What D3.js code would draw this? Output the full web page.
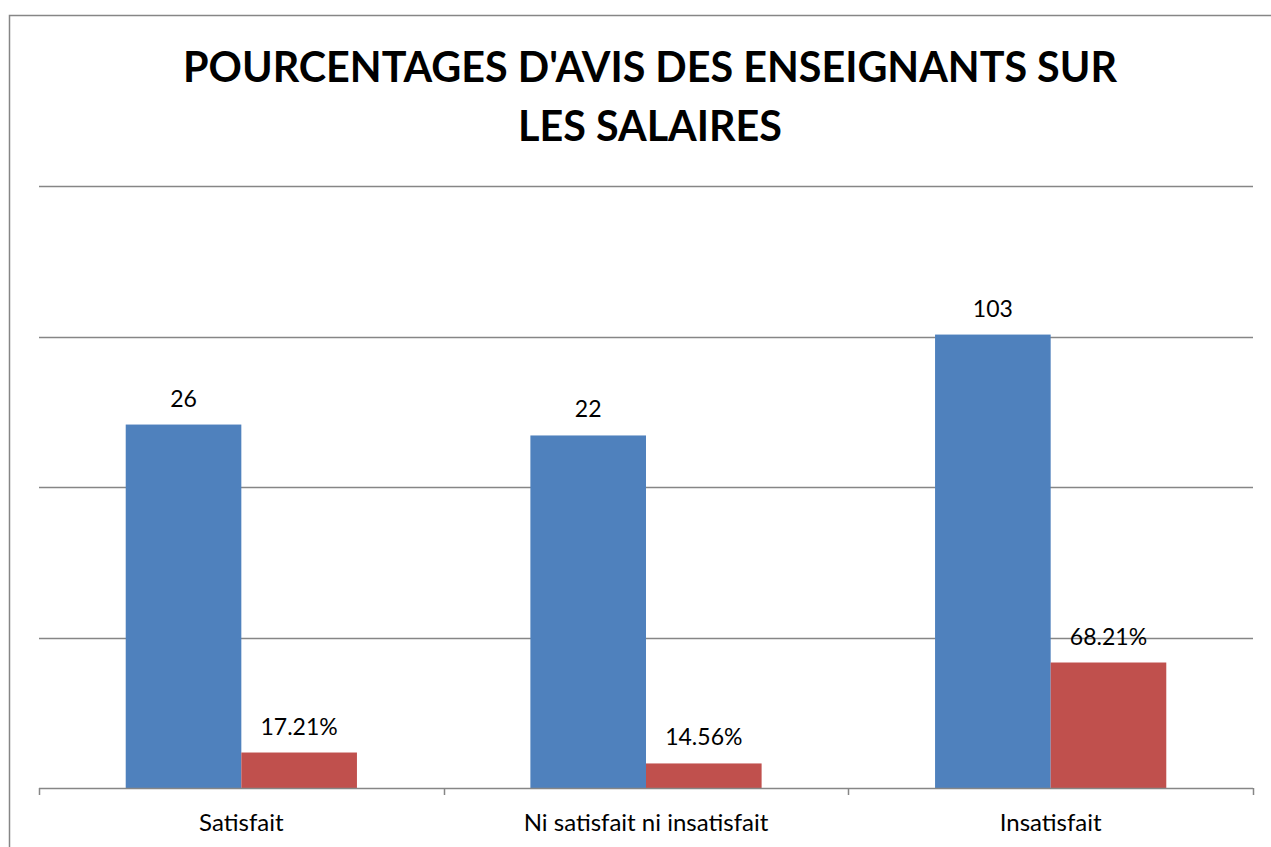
<!DOCTYPE html>
<html>
<head>
<meta charset="utf-8">
<script src="https://cdn.jsdelivr.net/npm/d3@7"></script>
<style>
  html, body { margin: 0; padding: 0; background: #fff; }
  svg { display: block; font-family: Lato, "Open Sans", sans-serif; }
</style>
</head>
<body>
<svg id="chart" width="1271" height="847"></svg>
<script>
// data
var categories = ["Satisfait", "Ni satisfait ni insatisfait", "Insatisfait"];
var effectifs = [26, 22, 103];
var pourcentages = [0.1721, 0.1456, 0.6821];
var pourcentageLabels = ["17.21%", "14.56%", "68.21%"];
var titleLines = ["POURCENTAGES D'AVIS DES ENSEIGNANTS SUR", "LES SALAIRES"];
var gridTicks = [0.1, 1, 10, 100, 1000];

var svg = d3.select("svg#chart");
var margin = {top: 186, right: 18, bottom: 59, left: 39};
var width = +svg.attr("width") - margin.left - margin.right;
var height = +svg.attr("height") - margin.top - margin.bottom;

// outer chart frame (only left/top visible)
svg.append("rect")
    .attr("x", 9.5).attr("y", 15.5)
    .attr("width", 1300).attr("height", 900)
    .attr("fill", "none")
    .attr("stroke", "#868686")
    .attr("stroke-width", 1.5);

svg.selectAll(".title")
    .data(titleLines)
    .enter().append("text")
    .attr("class", "title")
    .attr("x", 650)
    .attr("y", function(d, i) { return 82 + i * 59; })
    .attr("text-anchor", "middle")
    .style("font-size", "41.3px")
    .style("font-weight", "bold")
    .attr("fill", "#000")
    .text(function(d) { return d; });

var g = svg.append("g").attr("transform", "translate(" + margin.left + "," + margin.top + ")");

// the value axis is logarithmic (0.1 .. 1000), no labels shown
var y = d3.scaleLog()
    .domain([0.1, 1000])
    .range([height, 0]);

var x0 = d3.scaleBand()
    .domain(categories)
    .range([0, width])
    .paddingInner(0)
    .paddingOuter(0);

var x1 = d3.scaleBand()
    .domain([0, 1])
    .range([x0.bandwidth() * 0.2143, x0.bandwidth() * 0.7857]);

// gridlines
g.append("g")
    .attr("class", "grid")
    .selectAll("line")
    .data(gridTicks.slice(1))
    .enter().append("line")
    .attr("x1", 0).attr("x2", width)
    .attr("y1", function(d) { return Math.round(y(d)) + 0.5; })
    .attr("y2", function(d) { return Math.round(y(d)) + 0.5; })
    .attr("stroke", "#868686")
    .attr("stroke-width", 1.5);

var groups = g.selectAll(".cat")
    .data(categories)
    .enter().append("g")
    .attr("class", "cat")
    .attr("transform", function(d) { return "translate(" + x0(d) + ",0)"; });

var colors = ["#4F81BD", "#C0504D"];

groups.append("rect")
    .attr("x", x1(0))
    .attr("width", x1.bandwidth())
    .attr("y", function(d, i) { return y(effectifs[i]); })
    .attr("height", function(d, i) { return y(0.1) - y(effectifs[i]); })
    .attr("fill", colors[0]);

groups.append("rect")
    .attr("x", x1(1))
    .attr("width", x1.bandwidth())
    .attr("y", function(d, i) { return y(pourcentages[i]); })
    .attr("height", function(d, i) { return y(0.1) - y(pourcentages[i]); })
    .attr("fill", colors[1]);

groups.append("text")
    .attr("x", x1(0) + x1.bandwidth() / 2)
    .attr("y", function(d, i) { return y(effectifs[i]) - 18; })
    .attr("text-anchor", "middle")
    .style("font-size", "23px")
    .text(function(d, i) { return effectifs[i]; });

groups.append("text")
    .attr("x", x1(1) + x1.bandwidth() / 2)
    .attr("y", function(d, i) { return y(pourcentages[i]) - 18; })
    .attr("text-anchor", "middle")
    .style("font-size", "23px")
    .text(function(d, i) { return pourcentageLabels[i]; });

// category axis
var xAxis = g.append("g")
    .attr("class", "axis axis--x")
    .attr("transform", "translate(0," + height + ")");

xAxis.append("line")
    .attr("x1", 0).attr("x2", width)
    .attr("y1", 0.5).attr("y2", 0.5)
    .attr("stroke", "#868686")
    .attr("stroke-width", 1.5);

var edges = categories.map(function(c) { return x0(c); }).concat([width]);
xAxis.selectAll(".tick")
    .data(edges)
    .enter().append("line")
    .attr("x1", function(d) { return Math.round(d) + 0.5; })
    .attr("x2", function(d) { return Math.round(d) + 0.5; })
    .attr("y1", 0).attr("y2", 7)
    .attr("stroke", "#868686")
    .attr("stroke-width", 1.5);

xAxis.selectAll(".lbl")
    .data(categories)
    .enter().append("text")
    .attr("x", function(d) { return x0(d) + x0.bandwidth() / 2; })
    .attr("y", 43)
    .attr("text-anchor", "middle")
    .style("font-size", "24px")
    .text(function(d) { return d; });
</script>
</body>
</html>
